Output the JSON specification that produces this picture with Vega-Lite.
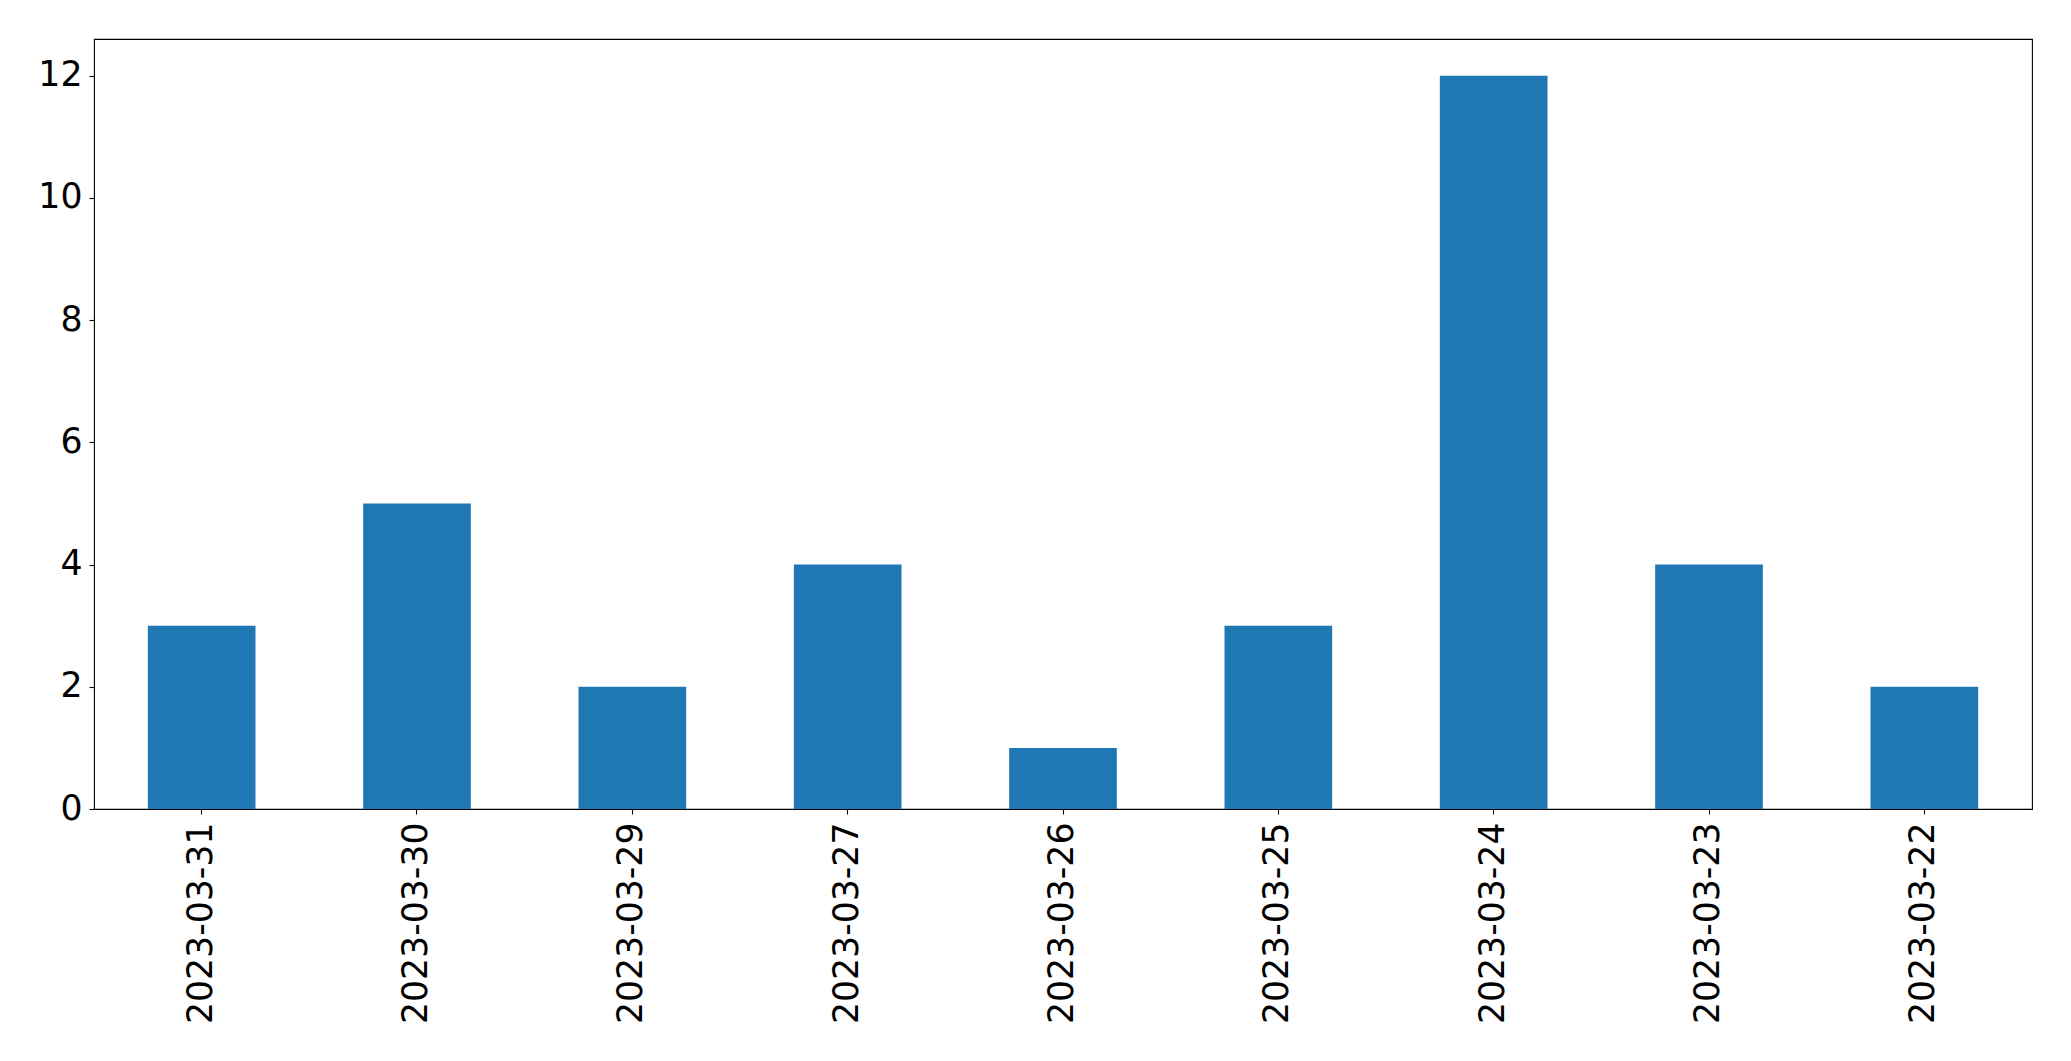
{
  "$schema": "https://vega.github.io/schema/vega-lite/v6.json",
  "autosize": {"type": "none"},
  "padding": {"left": 94, "top": 39, "right": 39, "bottom": 252},
  "width": 1938,
  "height": 770,
  "background": "white",
  "data": {
    "values": [
      {"date": "2023-03-31", "count": 3},
      {"date": "2023-03-30", "count": 5},
      {"date": "2023-03-29", "count": 2},
      {"date": "2023-03-27", "count": 4},
      {"date": "2023-03-26", "count": 1},
      {"date": "2023-03-25", "count": 3},
      {"date": "2023-03-24", "count": 12},
      {"date": "2023-03-23", "count": 4},
      {"date": "2023-03-22", "count": 2}
    ]
  },
  "mark": {"type": "bar", "color": "#1f77b4"},
  "encoding": {
    "x": {
      "field": "date",
      "type": "nominal",
      "sort": null,
      "scale": {"paddingInner": 0.5, "paddingOuter": 0.25},
      "axis": {
        "title": null,
        "labelAngle": -90,
        "labelAlign": "right",
        "labelBaseline": "middle",
        "labelPadding": 8,
        "domain": false
      }
    },
    "y": {
      "field": "count",
      "type": "quantitative",
      "scale": {"domain": [0, 12.6], "nice": false, "zero": true},
      "axis": {
        "title": null,
        "values": [0, 2, 4, 6, 8, 10, 12],
        "grid": false,
        "domain": false,
        "labelPadding": 7
      }
    }
  },
  "config": {
    "view": {"stroke": "black", "strokeWidth": 1.1},
    "axis": {
      "labelFont": "DejaVu Sans",
      "labelFontSize": 34.7,
      "labelColor": "black",
      "labelLimit": 0,
      "tickColor": "black",
      "tickSize": 5,
      "tickWidth": 1.1,
      "labelOverlap": false,
      "labelFlush": false
    }
  }
}
